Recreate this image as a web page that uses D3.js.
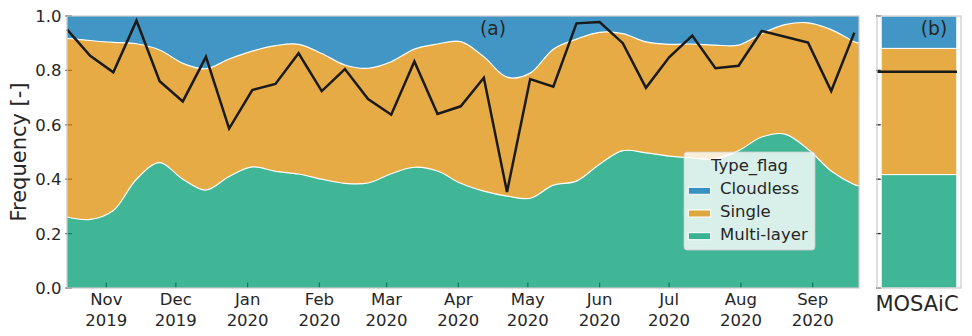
<!DOCTYPE html>
<html>
<head>
<meta charset="utf-8">
<script src="https://cdn.jsdelivr.net/npm/d3@7"></script>
<style>
  body { margin: 0; background: #fff; }
  text { font-family: "DejaVu Sans", sans-serif; fill: #262626; }
</style>
</head>
<body>
<svg id="chart"></svg>
<script>
var w = 972;
var h = 336;

// 10-day steps, last entry is the right edge of the smoothed areas
var dates = ["2019-10-15", "2019-10-25", "2019-11-04", "2019-11-14", "2019-11-24", "2019-12-04",
  "2019-12-14", "2019-12-24", "2020-01-03", "2020-01-13", "2020-01-23", "2020-02-02",
  "2020-02-12", "2020-02-22", "2020-03-03", "2020-03-13", "2020-03-23", "2020-04-02",
  "2020-04-12", "2020-04-22", "2020-05-02", "2020-05-12", "2020-05-22", "2020-06-01",
  "2020-06-11", "2020-06-21", "2020-07-01", "2020-07-11", "2020-07-21", "2020-07-31",
  "2020-08-10", "2020-08-20", "2020-08-30", "2020-09-09", "2020-09-19", "2020-09-21"];

var types = ["Multi-layer", "Single", "Cloudless"];
var colors = {"Multi-layer": "#029e73", "Single": "#de8f05", "Cloudless": "#0173b2"};

var multiFrac = [0.261, 0.252, 0.285, 0.400, 0.461, 0.400, 0.360, 0.410, 0.445, 0.429, 0.419, 0.400,
  0.385, 0.386, 0.420, 0.444, 0.430, 0.385, 0.356, 0.338, 0.330, 0.378, 0.393, 0.455,
  0.505, 0.497, 0.485, 0.478, 0.475, 0.505, 0.555, 0.566, 0.510, 0.430, 0.380, 0.375];
var singleFrac = [0.657, 0.658, 0.618, 0.498, 0.414, 0.426, 0.446, 0.432, 0.426, 0.462, 0.477, 0.462,
  0.435, 0.422, 0.412, 0.434, 0.467, 0.521, 0.494, 0.437, 0.460, 0.500, 0.522, 0.485,
  0.430, 0.408, 0.411, 0.419, 0.418, 0.388, 0.380, 0.402, 0.465, 0.520, 0.525, 0.525];
var cloudFrac = [0.082, 0.090, 0.097, 0.102, 0.125, 0.174, 0.194, 0.158, 0.129, 0.109, 0.104, 0.138,
  0.180, 0.192, 0.168, 0.122, 0.103, 0.094, 0.150, 0.225, 0.210, 0.122, 0.085, 0.060,
  0.065, 0.095, 0.104, 0.103, 0.107, 0.107, 0.065, 0.032, 0.025, 0.050, 0.095, 0.100];

// black line, one value per 10-day step (first 35 dates)
var lineValues = [0.951, 0.854, 0.793, 0.983, 0.760, 0.686, 0.850, 0.586, 0.728, 0.750, 0.863, 0.724,
  0.805, 0.695, 0.637, 0.833, 0.640, 0.668, 0.773, 0.353, 0.768, 0.740, 0.973, 0.978,
  0.900, 0.736, 0.848, 0.928, 0.808, 0.817, 0.945, 0.924, 0.902, 0.724, 0.939];

// MOSAiC total
var mosaicCats = ["MOSAiC"];
var mosaicFrac = {"Multi-layer": 0.417, "Single": 0.464, "Cloudless": 0.119};
var mosaicLine = 0.795;

var yTicks = [0, 0.2, 0.4, 0.6, 0.8, 1.0];

var parse = d3.timeParse("%Y-%m-%d");

var rows = dates.map(function (d, i) {
  return {date: parse(d), "Multi-layer": multiFrac[i], "Single": singleFrac[i], "Cloudless": cloudFrac[i]};
});
var linePts = lineValues.map(function (v, i) {
  return {date: parse(dates[i]), v: v};
});

var L = 67, R = 859, T = 16, B = 288;
var x = d3.scaleTime().domain([parse(dates[0]), parse(dates[dates.length - 1])]).range([L, R]);
var y = d3.scaleLinear().domain([0, 1]).range([B, T]);
var xb = d3.scaleBand().domain(mosaicCats).range([877, 961]).paddingInner(0.1).paddingOuter(0.05);

var svg = d3.select('#chart').attr('width', w).attr('height', h);
svg.append('rect').attr('width', w).attr('height', h).attr('fill', '#fff');

// ---- panel (a) ----
var gA = svg.append('g');

// ticks sit under the translucent fills
var monthTicks = d3.timeMonth.range(new Date(2019, 10, 1), new Date(2020, 8, 2));
gA.selectAll('line.yt').data(yTicks).enter().append('line')
  .attr('x1', L - 1.5).attr('x2', L + 5)
  .attr('y1', function (d) { return y(d); }).attr('y2', function (d) { return y(d); })
  .attr('stroke', '#262626').attr('stroke-width', 1.3);
gA.selectAll('line.xt').data(monthTicks).enter().append('line')
  .attr('x1', function (d) { return x(d); }).attr('x2', function (d) { return x(d); })
  .attr('y1', B).attr('y2', B - 5.5)
  .attr('stroke', '#262626').attr('stroke-width', 1.3);

var stack = d3.stack().keys(types);
var layers = stack(rows);

var area = d3.area()
  .x(function (d) { return x(d.data.date); })
  .y0(function (d) { return y(d[0]); })
  .y1(function (d) { return y(d[1]); })
  .curve(d3.curveCatmullRom.alpha(0.5));

gA.selectAll('path.layer').data(layers).enter().append('path')
  .attr('d', area)
  .attr('fill', function (d) { return colors[d.key]; })
  .attr('fill-opacity', 0.75);

var edge = d3.line()
  .x(function (d) { return x(d.data.date); })
  .y(function (d) { return y(d[1]); })
  .curve(d3.curveCatmullRom.alpha(0.5));
gA.selectAll('path.edge').data(layers.slice(0, 2)).enter().append('path')
  .attr('d', edge)
  .attr('fill', 'none').attr('stroke', '#fff').attr('stroke-width', 1.2);

gA.append('path')
  .datum(linePts)
  .attr('d', d3.line().x(function (d) { return x(d.date); }).y(function (d) { return y(d.v); }))
  .attr('fill', 'none').attr('stroke', '#1a1a1a').attr('stroke-width', 2.5)
  .attr('stroke-linejoin', 'miter');

gA.append('rect').attr('x', L).attr('y', T).attr('width', R - L).attr('height', B - T)
  .attr('fill', 'none').attr('stroke', '#cccccc').attr('stroke-width', 1.25);

gA.selectAll('text.yl').data(yTicks).enter().append('text')
  .attr('x', 61.5).attr('y', function (d) { return y(d); }).attr('dy', '0.36em')
  .attr('text-anchor', 'end').attr('font-size', '16.5px')
  .text(function (d) { return d.toFixed(1); });

var xl = gA.selectAll('text.xl').data(monthTicks).enter().append('text')
  .attr('text-anchor', 'middle').attr('font-size', '16.5px');
xl.append('tspan').attr('x', function (d) { return x(d); }).attr('y', 305)
  .text(d3.timeFormat('%b'));
xl.append('tspan').attr('x', function (d) { return x(d); }).attr('y', 326)
  .text(d3.timeFormat('%Y'));

svg.append('text').attr('transform', 'translate(26,' + ((T + B) / 2) + ') rotate(-90)')
  .attr('text-anchor', 'middle').attr('font-size', '21px').text('Frequency [-]');

svg.append('text').attr('x', 493).attr('y', 35).attr('text-anchor', 'middle')
  .attr('font-size', '18.7px').attr('fill', '#000').text('(a)');

// legend
var lg = svg.append('g').attr('transform', 'translate(684,152)');
lg.append('rect').attr('width', 131).attr('height', 98).attr('rx', 3)
  .attr('fill', '#fff').attr('fill-opacity', 0.8)
  .attr('stroke', '#cccccc').attr('stroke-opacity', 0.8);
lg.append('text').attr('x', 65.5).attr('y', 18.5).attr('text-anchor', 'middle')
  .attr('font-size', '16.5px').text('Type_flag');
var legendOrder = ["Cloudless", "Single", "Multi-layer"];
var items = lg.selectAll('g.item').data(legendOrder).enter().append('g')
  .attr('transform', function (d, i) { return 'translate(0,' + (42.3 + i * 22.7) + ')'; });
items.append('rect').attr('x', 4.3).attr('y', -7).attr('width', 22.3).attr('height', 7)
  .attr('fill', function (d) { return colors[d]; }).attr('fill-opacity', 0.75)
  .attr('stroke', '#fff').attr('stroke-width', 1);
items.append('text').attr('x', 36).attr('y', 0).attr('font-size', '16.5px')
  .text(function (d) { return d; });

// ---- panel (b) ----
var gB = svg.append('g');
gB.selectAll('line.yt').data(yTicks).enter().append('line')
  .attr('x1', 876).attr('x2', 882)
  .attr('y1', function (d) { return y(d); }).attr('y2', function (d) { return y(d); })
  .attr('stroke', '#262626').attr('stroke-width', 1.3);

var bRow = [{cat: "MOSAiC", "Multi-layer": mosaicFrac["Multi-layer"], "Single": mosaicFrac["Single"], "Cloudless": mosaicFrac["Cloudless"]}];
var bLayers = stack(bRow);
gB.selectAll('rect.bar').data(bLayers).enter().append('rect')
  .attr('x', function (d) { return xb(d[0].data.cat); })
  .attr('width', xb.bandwidth())
  .attr('y', function (d) { return y(d[0][1]); })
  .attr('height', function (d) { return y(d[0][0]) - y(d[0][1]); })
  .attr('fill', function (d) { return colors[d.key]; }).attr('fill-opacity', 0.75)
  .attr('stroke', '#fff').attr('stroke-width', 1);

gB.append('line').attr('x1', 877).attr('x2', 957)
  .attr('y1', y(mosaicLine)).attr('y2', y(mosaicLine))
  .attr('stroke', '#1a1a1a').attr('stroke-width', 2.5);

gB.append('rect').attr('x', 877).attr('y', T).attr('width', 84).attr('height', B - T)
  .attr('fill', 'none').attr('stroke', '#cccccc').attr('stroke-width', 1.25);

gB.selectAll('text.cat').data(mosaicCats).enter().append('text')
  .attr('x', function (d) { return xb(d) + xb.bandwidth() / 2 - 2; }).attr('y', 311)
  .attr('text-anchor', 'middle').attr('font-size', '21px').text(function (d) { return d; });

svg.append('text').attr('x', 934).attr('y', 35).attr('text-anchor', 'middle')
  .attr('font-size', '18.7px').attr('fill', '#000').text('(b)');
</script>
</body>
</html>
